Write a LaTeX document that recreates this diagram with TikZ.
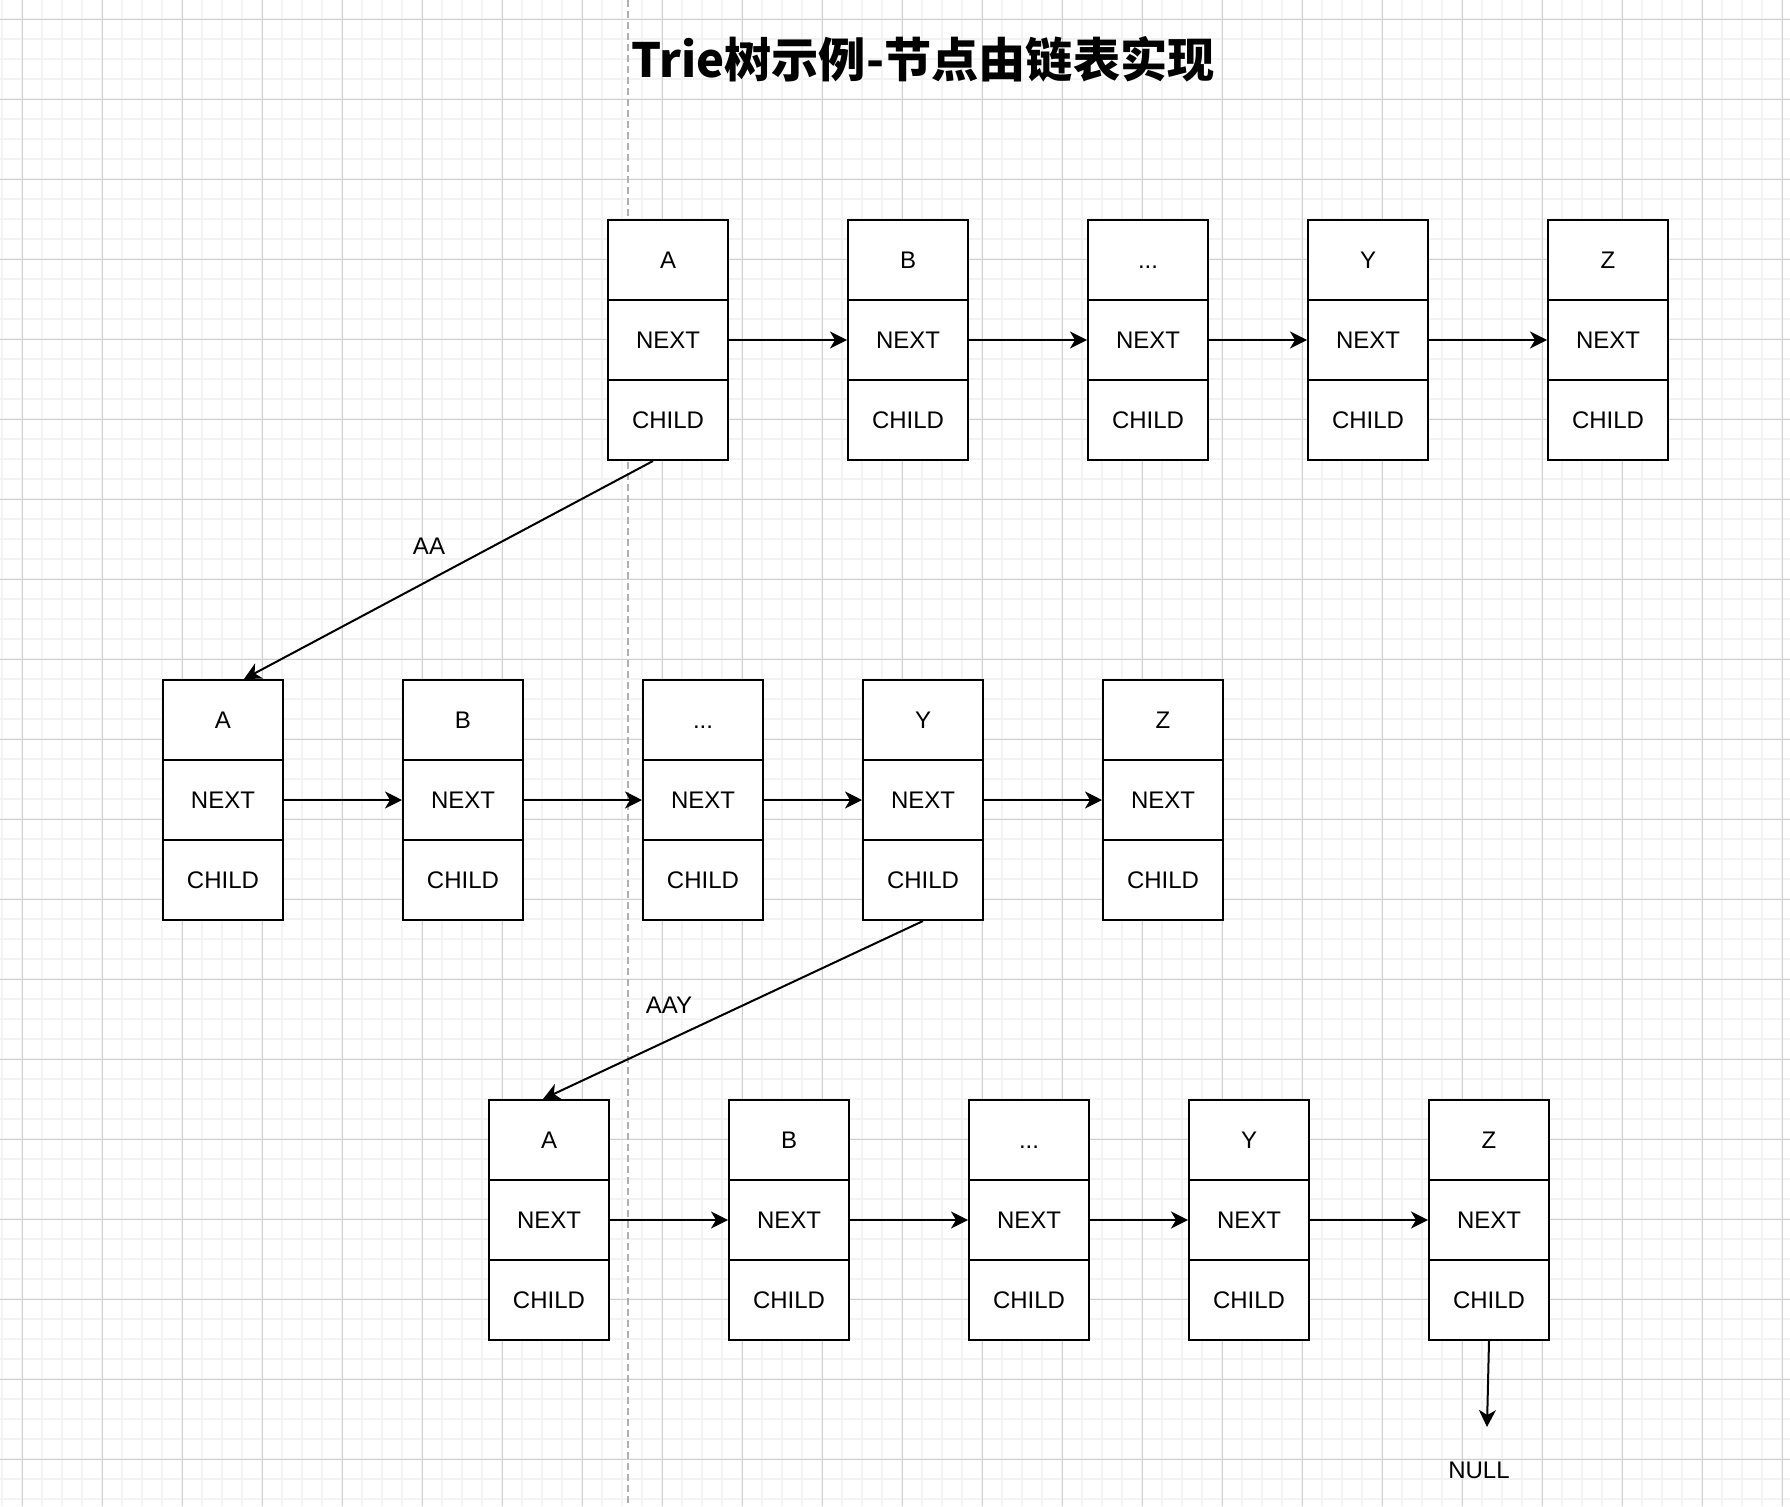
\documentclass[tikz,border=0pt]{standalone}
\usepackage{fontspec}
\setmainfont{Liberation Sans}
\newfontfamily\cjk{Noto Sans CJK SC}
\usetikzlibrary{arrows.meta}
\definecolor{gridminor}{RGB}{243,243,243}
\definecolor{gridmajor}{RGB}{208,208,208}
\definecolor{guidegray}{RGB}{176,176,176}
\newcommand\triedots{...}
\begin{document}
\begin{tikzpicture}[x=.5pt,y=-.5pt,
                    minor/.style={draw=gridminor,line width=1pt},
                    major/.style={draw=gridmajor,line width=.5pt},
                    guide/.style={draw=guidegray,line width=.6pt,dash pattern=on 3.5pt off 2pt},
                    cell/.style={draw,fill=white,line width=1pt,minimum width=60pt,minimum height=40pt,
                                 inner sep=0pt,text height=8.6pt,text depth=0pt},
                    arr/.style={line width=1pt,-{Stealth[length=8.5pt,width=8.5pt,inset=2.5pt]}},
                    lbl/.style={inner sep=1pt},
                    title/.style={font=\cjk\bfseries\fontsize{23.6pt}{28pt}\selectfont},
                    every node/.style={font=\fontsize{12pt}{14pt}\selectfont}]
 \useasboundingbox[fill=white] (0,0) rectangle (1790,1506);
 % grid
 \foreach \i in {0,...,89} \draw[minor] (2.3+20*\i,0) -- ++(0,1506);
 \foreach \i in {1,...,75} \draw[minor] (0,-.7+20*\i) -- ++(1790,0);
 \foreach \i in {0,...,22} \draw[major] (22.3+80*\i,0) -- ++(0,1506);
 \foreach \i in {0,...,18} \draw[major] (0,19.3+80*\i) -- ++(1790,0);
 \draw[guide] (628,0) -- (628,1506);
 \node[title] (title) at (923,59) {Trie树示例-节点由链表实现};
 % three lists of nodes
 \foreach \r/\y/\xa/\xb/\xc/\xd/\xe in {t/260/668/908/1148/1368/1608,
                                        m/720/223/463/703/923/1163,
                                        b/1140/549/789/1029/1249/1489}{
  \foreach \x/\l [count=\i] in {\xa/A,\xb/B,\xc/\triedots,\xd/Y,\xe/Z}{
   \node[cell] (\r\i-l) at (\x,\y) {\l};
   \node[cell] (\r\i-n) at (\x,\y+80) {NEXT};
   \node[cell] (\r\i-c) at (\x,\y+160) {CHILD};
  }
  \foreach \i [evaluate=\i as \j using int(\i+1)] in {1,...,4}
   \draw[arr] (\r\i-n.east) -- (\r\j-n.west);
 }
 % child links
 \draw[arr] ([xshift=-7.5pt]t1-c.south) -- ([xshift=10.5pt]m1-l.north);
 \node[lbl] (aa) at (429,546) {AA};
 \draw[arr] (m4-c.south) -- ([xshift=-3pt]b1-l.north);
 \node[lbl] (aay) at (669,1005) {AAY};
 \coordinate (nullend) at (1487,1427);
 \draw[arr] (b5-c.south) -- (nullend);
 \node[lbl] (null) at (1479,1470) {NULL};
\end{tikzpicture}
\end{document}
